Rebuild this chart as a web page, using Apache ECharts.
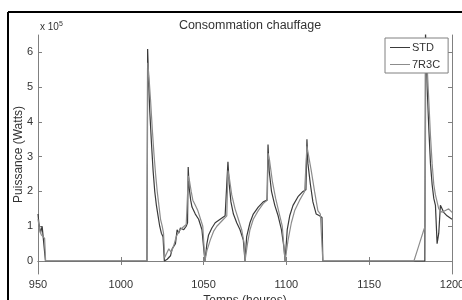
<!DOCTYPE html>
<html>
<head>
<meta charset="utf-8">
<script src="https://cdn.jsdelivr.net/npm/echarts@6/dist/echarts.min.js"></script>
<style>
  html, body { margin: 0; padding: 0; background: #fff; }
  #chart { width: 462px; height: 300px; }
</style>
</head>
<body>
<div id="chart"></div>
<script>
// valeurs en x 10^5 W, temps en heures
const seriesNames = ['STD', '7R3C'];
const xTicks = [950, 1000, 1050, 1100, 1150, 1200];
const yTicks = [0, 1, 2, 3, 4, 5, 6];

const std = [
  [950, 1.35], [950.5, 1.1], [951, 0.95], [951.5, 0.8], [952, 0.85], [952.5, 1.0], [953, 0.75], [954, 0.72], [954.5, 0],
  [1015.8, 0], [1016.2, 6.1], [1016.8, 5.2], [1017.5, 4.3], [1018.5, 3.4], [1019.5, 2.6], [1020.5, 2.0], [1021.5, 1.6],
  [1022.5, 1.3], [1023.5, 1.0], [1024.5, 0.8], [1025.5, 0.7], [1026.3, 0], [1028, 0.05], [1030, 0.15], [1031, 0.35],
  [1032, 0.3], [1033, 0.5], [1034, 0.9], [1035, 0.8], [1036, 0.95], [1038, 0.9], [1039.5, 1.0], [1040.3, 1.1],
  [1040.7, 2.7], [1041.3, 2.1], [1042.2, 1.75], [1043, 1.55], [1044, 1.5], [1045, 1.35], [1046, 1.35], [1047, 1.2],
  [1048, 1.05], [1049, 0.9], [1050, 0.4], [1050.8, 0],
  [1052, 0.5], [1053, 0.75], [1055, 0.95], [1057, 1.1], [1060, 1.2], [1063, 1.3], [1064.2, 1.35], [1064.7, 2.85],
  [1065.5, 2.2], [1066.5, 1.7], [1068, 1.35], [1070, 1.1], [1072, 0.9], [1074, 0.6], [1075, 0],
  [1076, 0.7], [1078, 1.1], [1080, 1.35], [1083, 1.55], [1086, 1.7], [1088.3, 1.75], [1088.9, 3.35], [1089.6, 2.6],
  [1091, 2.0], [1093, 1.6], [1095, 1.3], [1097, 0.9], [1098.5, 0.4], [1099.2, 0],
  [1100.5, 0.9], [1102, 1.3], [1104, 1.6], [1107, 1.85], [1110, 2.0], [1111.8, 2.05], [1112.4, 3.5], [1113, 2.8],
  [1114.5, 2.2], [1116, 1.7], [1118, 1.35], [1120, 1.3], [1121.5, 1.25], [1122, 0],
  [1183.6, 0], [1184, 6.6], [1185, 5.0], [1186, 3.8], [1187, 2.8], [1188, 2.2], [1189, 1.8], [1190, 1.6],
  [1191, 0.5], [1192, 0.8], [1193, 1.6], [1195, 1.4], [1197, 1.3], [1200, 1.2]
];

const r7r3c = [
  [950, 1.2], [951, 0.9], [952, 0.75], [953, 0.8], [954, 0.65], [954.6, 0],
  [1015.8, 0], [1016.3, 5.7], [1017, 5.3], [1018, 4.6], [1019, 3.8], [1020, 3.1], [1021, 2.5], [1022, 2.0],
  [1023, 1.6], [1024, 1.2], [1025, 1.0], [1025.8, 0.8], [1026.5, 0.1], [1027.5, 0.2], [1029, 0.35], [1030.5, 0.25],
  [1032, 0.45], [1033.5, 0.7], [1035, 0.85], [1037, 0.95], [1039.5, 1.05], [1040.5, 1.1], [1040.8, 2.45],
  [1041.5, 2.3], [1042.5, 2.0], [1043.5, 1.75], [1045, 1.6], [1046.5, 1.45], [1047.5, 1.3], [1048.5, 1.35],
  [1049.5, 1.0], [1050.8, 0],
  [1052, 0.3], [1054, 0.6], [1056, 0.85], [1058, 1.0], [1061, 1.15], [1064, 1.3], [1064.7, 2.6], [1065.5, 2.4],
  [1067, 1.9], [1069, 1.5], [1071, 1.2], [1073, 0.9], [1074.5, 0.5], [1075, 0],
  [1076.5, 0.5], [1078, 0.9], [1080, 1.2], [1083, 1.45], [1086, 1.65], [1088.5, 1.75], [1088.9, 3.1], [1089.8, 2.9],
  [1091.5, 2.3], [1093.5, 1.8], [1095.5, 1.4], [1097.5, 1.0], [1099.2, 0],
  [1101, 0.6], [1103, 1.1], [1105, 1.45], [1108, 1.75], [1111, 2.0], [1112.4, 3.3], [1113.5, 3.0], [1115, 2.6],
  [1117, 2.0], [1119, 1.45], [1120.5, 1.35], [1121.5, 1.3], [1122, 0],
  [1177, 0], [1179, 0.3], [1181, 0.6], [1183, 0.9], [1183.8, 1.0], [1184.2, 6.3], [1185, 5.6], [1186, 4.6],
  [1187, 3.6], [1188, 2.8], [1189, 2.2], [1190, 1.9], [1191, 1.7], [1192, 1.5], [1194, 1.4], [1196, 1.45],
  [1198, 1.5], [1200, 1.4]
];

const FONT = '"Liberation Sans", Arial, sans-serif';
const AXIS_COL = '#808080';
const TXT_COL = '#333';

const chart = echarts.init(document.getElementById('chart'), null, { renderer: 'canvas' });

const boxAxis = {
  axisLine: { show: true, lineStyle: { color: AXIS_COL, width: 1 } },
  axisTick: { show: true, inside: true, length: 4, lineStyle: { color: AXIS_COL } },
  splitLine: { show: false }
};

chart.setOption({
  animation: false,
  backgroundColor: '#fff',
  title: {
    text: 'Consommation chauffage',
    left: 245, top: 14, textAlign: 'center',
    textStyle: { fontFamily: FONT, fontSize: 12.5, fontWeight: 'normal', color: TXT_COL }
  },
  legend: {
    data: seriesNames,
    orient: 'vertical',
    left: 385, top: 38,
    backgroundColor: '#fff',
    borderColor: AXIS_COL, borderWidth: 1, borderRadius: 0,
    padding: [4, 8, 3, 5],
    icon: 'rect',
    itemWidth: 20, itemHeight: 1, itemGap: 6,
    textStyle: { fontFamily: FONT, fontSize: 11, color: TXT_COL, padding: [0, 0, 0, -3] }
  },
  grid: { left: 38, right: 10, top: 35, bottom: 26, containLabel: false, outerBoundsMode: 'none' },
  xAxis: [
    Object.assign({}, boxAxis, {
      type: 'value', min: 950, max: 1200, interval: 50, position: 'bottom',
      name: 'Temps (heures)', nameLocation: 'middle', nameGap: 18,
      nameTextStyle: { fontFamily: FONT, fontSize: 12, color: TXT_COL },
      axisLabel: {
        fontFamily: FONT, fontSize: 11, color: TXT_COL, margin: 5,
        customValues: xTicks, formatter: v => String(v)
      }
    }),
    Object.assign({}, boxAxis, {
      type: 'value', min: 950, max: 1200, interval: 50, position: 'top',
      axisLabel: { show: false }
    })
  ],
  yAxis: [
    Object.assign({}, boxAxis, {
      type: 'value', min: -0.374, max: 6.5, position: 'left',
      name: 'Puissance (Watts)', nameLocation: 'middle', nameGap: 13, nameRotate: 90,
      nameMoveOverlap: false,
      nameTextStyle: { fontFamily: FONT, fontSize: 12, color: TXT_COL },
      axisTick: { show: true, inside: true, length: 4, lineStyle: { color: AXIS_COL }, customValues: yTicks },
      axisLabel: { fontFamily: FONT, fontSize: 11, color: TXT_COL, margin: 5, customValues: yTicks }
    }),
    Object.assign({}, boxAxis, {
      type: 'value', min: -0.374, max: 6.5, position: 'right',
      axisTick: { show: true, inside: true, length: 4, lineStyle: { color: AXIS_COL }, customValues: yTicks },
      axisLabel: { show: false }
    })
  ],
  graphic: [
    {
      type: 'text', left: 40, top: 21,
      style: {
        text: '{b|x 10}{s|5}',
        rich: {
          b: { fontFamily: FONT, fontSize: 10, fill: TXT_COL },
          s: { fontFamily: FONT, fontSize: 7, fill: TXT_COL, verticalAlign: 'top', padding: [0, 0, 6, 0] }
        }
      }
    },
    // cadre noir de la capture
    { type: 'line', shape: { x1: 8, y1: 12, x2: 462, y2: 12 }, style: { stroke: '#000', lineWidth: 2 } },
    { type: 'line', shape: { x1: 8, y1: 12, x2: 8, y2: 300 }, style: { stroke: '#000', lineWidth: 2 } }
  ],
  series: [
    {
      name: 'STD', type: 'line', data: std, symbol: 'none', clip: true,
      lineStyle: { color: '#3a3a3a', width: 1.2 }, itemStyle: { color: '#3a3a3a' }
    },
    {
      name: '7R3C', type: 'line', data: r7r3c, symbol: 'none', clip: true,
      lineStyle: { color: '#8c8c8c', width: 1.2 }, itemStyle: { color: '#8c8c8c' }
    }
  ]
});
</script>
</body>
</html>
